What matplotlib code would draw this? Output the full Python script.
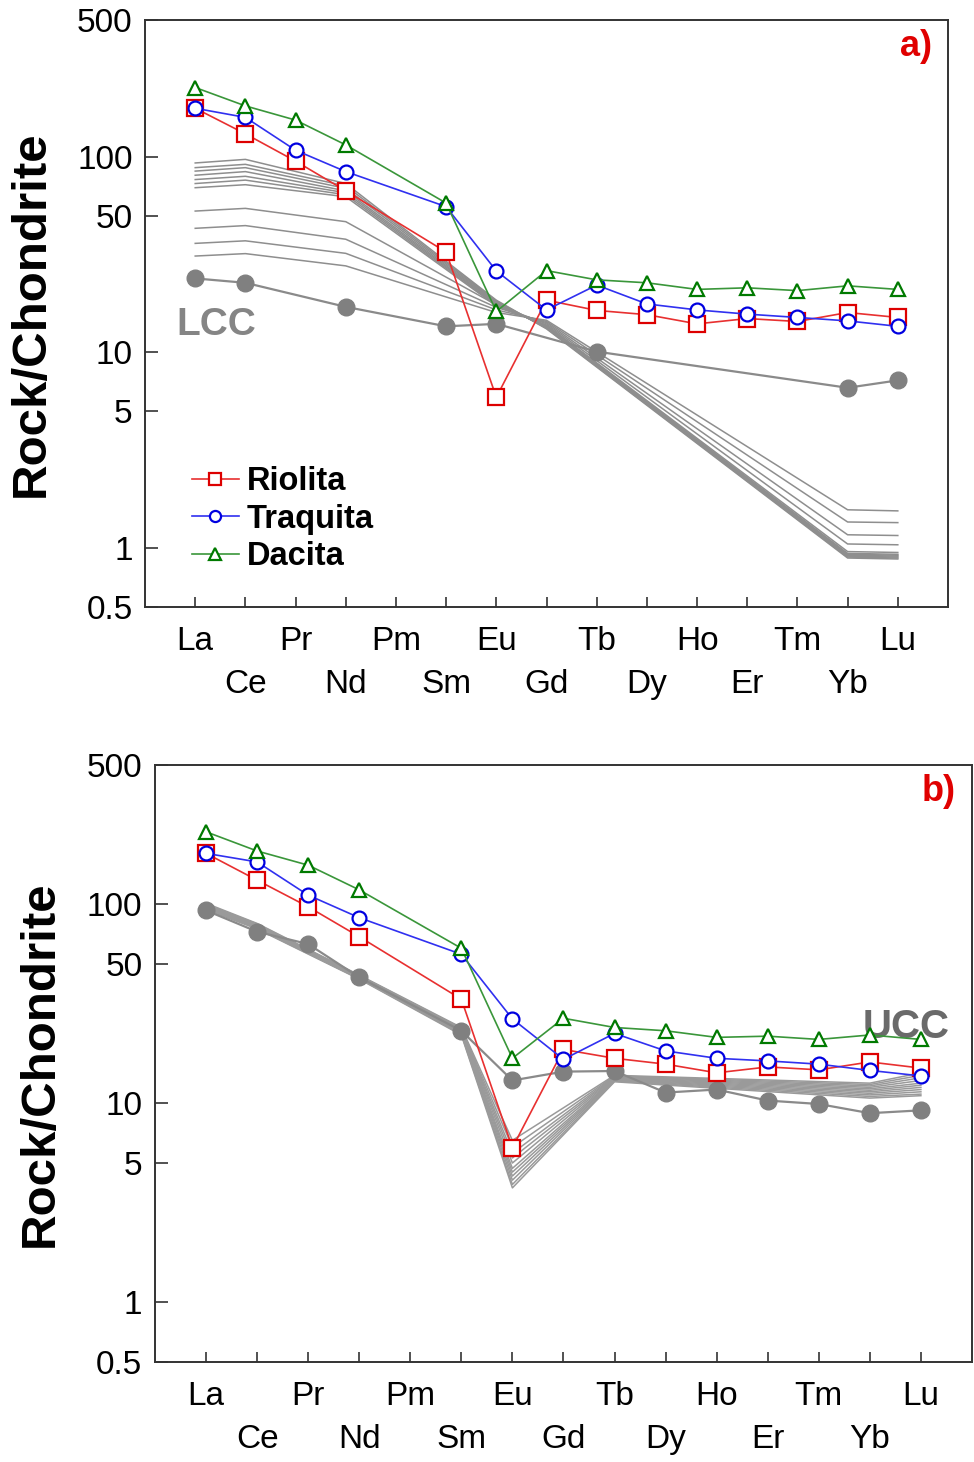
import numpy as np
import matplotlib.pyplot as plt

plt.rcParams['font.family'] = ['Liberation Sans', 'DejaVu Sans']

nan = np.nan

# elementos REE, en orden
ree = ['La', 'Ce', 'Pr', 'Nd', 'Pm', 'Sm', 'Eu', 'Gd', 'Tb', 'Dy', 'Ho', 'Er', 'Tm', 'Yb', 'Lu']

# ---- panel a) ----
riolita_a = [177, 131, 95, 67, nan, 32.6, 5.9, 18.5, 16.4, 15.6, 14.0, 14.9, 14.4, 16.0, 15.1]
traquita_a = [177, 159, 108, 84, nan, 55.6, 26.1, 16.5, 22.1, 17.7, 16.5, 15.7, 15.1, 14.5, 13.6]
dacita_a = [226, 182, 154, 115, nan, 58, 16.2, 26.2, 23.5, 22.7, 21.0, 21.4, 20.7, 21.9, 21.0]
lcc = [23.9, 22.7, nan, 17.1, nan, 13.6, 14.0, nan, 10.1, nan, nan, nan, nan, 6.6, 7.2]

# curvas modelo (gris), valores en los elementos de model_a_pts
model_a_pts = ['La', 'Ce', 'Nd', 'Eu', 'Gd', 'Yb', 'Lu']
model_a = [
    [93.0, 97.0, 73.0, 18.5, 13.2, 0.89, 0.88],
    [88.0, 91.5, 71.0, 18.3, 13.3, 0.90, 0.89],
    [84.5, 88.0, 69.0, 18.1, 13.4, 0.91, 0.90],
    [80.5, 84.0, 67.0, 17.9, 13.5, 0.92, 0.91],
    [76.5, 79.5, 65.5, 17.7, 13.6, 0.93, 0.92],
    [73.0, 76.0, 64.0, 17.5, 13.7, 0.94, 0.93],
    [69.5, 72.0, 62.5, 17.3, 13.8, 0.96, 0.95],
    [52.8, 54.5, 46.6, 17.5, 14.0, 1.05, 1.04],
    [43.1, 44.5, 37.9, 17.0, 14.2, 1.17, 1.16],
    [36.1, 37.2, 32.1, 16.5, 14.4, 1.36, 1.35],
    [31.1, 32.0, 27.7, 16.0, 14.6, 1.57, 1.55],
]

# ---- panel b) ----
riolita_b = [180, 132, 97, 68.6, nan, 33.3, 5.97, 18.6, 16.8, 15.7, 14.2, 15.2, 14.7, 16.1, 15.0]
traquita_b = [180, 163, 111, 85.5, nan, 56, 26.5, 16.6, 22.4, 18.3, 16.8, 16.3, 15.7, 14.6, 13.7]
dacita_b = [231, 185, 157, 118, nan, 60, 16.8, 26.7, 24.0, 23.1, 21.4, 21.7, 20.9, 22.0, 20.9]
ucc = [93, 72.7, 63, 42.9, nan, 23.1, 13.0, 14.4, 14.5, 11.3, 11.7, 10.3, 9.9, 8.9, 9.2]

model_b_pts = ['La', 'Ce', 'Nd', 'Sm', 'Eu', 'Tb', 'Yb', 'Lu']
model_b = [
    [101, 80.0, 44.0, 24.0, 6.50, 13.8, 12.6, 14.2],
    [100, 79.5, 43.8, 23.8, 6.00, 13.7, 12.4, 13.8],
    [99.0, 79.0, 43.6, 23.6, 5.60, 13.6, 12.2, 13.4],
    [98.5, 78.5, 43.4, 23.4, 5.30, 13.5, 12.0, 13.0],
    [98.0, 78.0, 43.2, 23.2, 5.00, 13.4, 11.8, 12.6],
    [97.5, 77.5, 43.0, 23.0, 4.70, 13.3, 11.6, 12.3],
    [97.0, 77.0, 42.8, 22.8, 4.50, 13.2, 11.4, 12.0],
    [96.5, 76.5, 42.6, 22.6, 4.30, 13.1, 11.2, 11.7],
    [96.0, 76.0, 42.4, 22.4, 4.10, 13.0, 11.0, 11.4],
    [95.0, 75.5, 42.2, 22.2, 3.90, 12.9, 10.8, 11.1],
    [94.0, 75.0, 42.0, 22.0, 3.75, 12.8, 10.6, 10.9],
]

yticks = [0.5, 1, 5, 10, 50, 100, 500]
ytick_labels = ['0.5', '1', '5', '10', '50', '100', '500']

x = np.arange(len(ree))


def sin_huecos(vals):
    v = np.array(vals, dtype=float)
    ok = ~np.isnan(v)
    return x[ok], v[ok]


def dibujar_muestras(ax, rio, tra, dac):
    xs, ys = sin_huecos(rio)
    ax.plot(xs, ys, color='#e83030', lw=1.2, marker='s', ms=11, mfc='white',
            mec='#dd0000', mew=1.6, label='Riolita', zorder=4)
    xs, ys = sin_huecos(tra)
    ax.plot(xs, ys, color='#3030f0', lw=1.2, marker='o', ms=10, mfc='white',
            mec='#0000e0', mew=1.6, label='Traquita', zorder=5)
    xs, ys = sin_huecos(dac)
    ax.plot(xs, ys, color='#3a963a', lw=1.2, marker='^', ms=10, mfc='white',
            mec='#007a00', mew=1.6, label='Dacita', zorder=6)


def dibujar_modelo(ax, pts, filas, color):
    xm = [ree.index(p) for p in pts]
    for fila in filas:
        ax.plot(xm, fila, color=color, lw=1.1, zorder=1)


def dibujar_corteza(ax, vals):
    xs, ys = sin_huecos(vals)
    ax.plot(xs, ys, color='#8a8a8a', lw=1.6, marker='o', ms=12, mfc='#808080',
            mec='#808080', zorder=2)


def formato(ax, letra):
    ax.set_yscale('log')
    ax.set_ylim(0.5, 500)
    ax.set_xlim(-1, 15)
    ax.set_yticks(yticks)
    ax.set_yticklabels(ytick_labels)
    ax.minorticks_off()
    ax.set_xticks(x)
    ax.set_xticklabels([e if i % 2 == 0 else '\n' + e for i, e in enumerate(ree)])
    for t in ax.get_xticklabels():
        t.set_linespacing(1.5)
    ax.tick_params(axis='both', direction='in', labelsize=24, width=1.2, color='#333333')
    ax.tick_params(axis='y', length=9, pad=9)
    ax.tick_params(axis='x', length=7, pad=14)
    for s in ax.spines.values():
        s.set_linewidth(1.4)
        s.set_color('#333333')
    ax.set_ylabel('Rock/Chondrite', fontsize=35.5, fontweight='bold')
    ax.text(0.98, 0.985, letra, transform=ax.transAxes, ha='right', va='top',
            fontsize=26, fontweight='bold', color='#e00000')


fig = plt.figure(figsize=(9.74, 14.62), dpi=100)

ax1 = fig.add_axes([0.1489, 0.5848, 0.8244, 0.4015])
dibujar_modelo(ax1, model_a_pts, model_a, '#8e8e8e')
dibujar_corteza(ax1, lcc)
dibujar_muestras(ax1, riolita_a, traquita_a, dacita_a)
formato(ax1, 'a)')
ax1.yaxis.set_label_coords(-0.114, 0.5)
ax1.text(-0.38, 13.8, 'LCC', fontsize=28, fontweight='bold', color='#858585', va='center')
ax1.legend(loc='upper left', bbox_to_anchor=(0.058, 0.24), frameon=False,
           prop={'weight': 'bold', 'size': 23.5}, handlelength=1.45,
           handletextpad=0.25, labelspacing=0.2, borderpad=0, borderaxespad=0,
           markerscale=0.8)

ax2 = fig.add_axes([0.1591, 0.0684, 0.8388, 0.4083])
dibujar_modelo(ax2, model_b_pts, model_b, '#9a9a9a')
dibujar_corteza(ax2, ucc)
ax2.text(12.85, 24, 'UCC', fontsize=29, fontweight='bold', color='#6a6a6a',
         va='center', zorder=3)
dibujar_muestras(ax2, riolita_b, traquita_b, dacita_b)
formato(ax2, 'b)')
ax2.yaxis.set_label_coords(-0.113, 0.5)

fig.savefig('out.png', dpi=100)
